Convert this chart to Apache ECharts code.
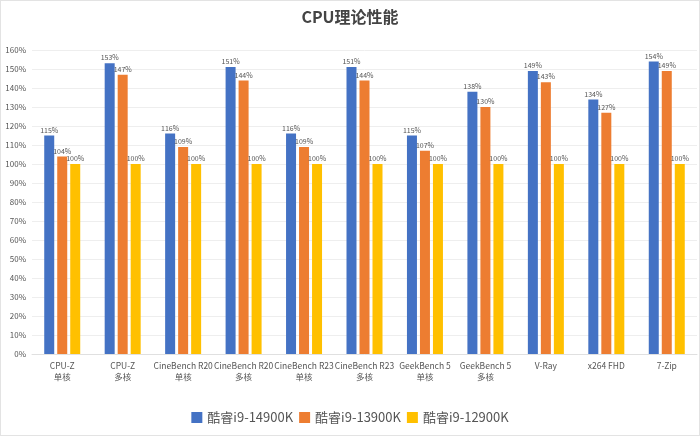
<!DOCTYPE html>
<html><head><meta charset="utf-8">
<script src="https://cdn.jsdelivr.net/npm/echarts@6/dist/echarts.min.js"></script>
<style>html,body{margin:0;padding:0;background:#fff}#c{width:698px;height:434px;border:1px solid #e3e3e3}</style>
</head><body><div id="c"></div>
<script>
const categories = ["CPU-Z\n单核","CPU-Z\n多核","CineBench R20\n单核","CineBench R20\n多核","CineBench R23\n单核","CineBench R23\n多核","GeekBench 5\n单核","GeekBench 5\n多核","V-Ray","x264 FHD","7-Zip"];
const seriesNames = ["酷睿i9-14900K","酷睿i9-13900K","酷睿i9-12900K"];
const s14900K = [115,153,116,151,116,151,115,138,149,134,154];
const s13900K = [104,147,109,144,109,144,107,130,143,127,149];
const s12900K = [100,100,100,100,100,100,100,100,100,100,100];
const colors = ["#4472C4","#ED7D31","#FFC000"];
const font = "'Noto Sans CJK SC', 'Noto Sans', sans-serif";
const chart = echarts.init(document.getElementById('c'));
function mk(name, data, i){
  return {name, type:'bar', data, barWidth:10, barGap:'30%',
    itemStyle:{color:colors[i]},
    label:{show:true, position:'top', distance:2, formatter:'{c}%', fontSize:7, color:'#555', fontFamily:font}};
}
chart.setOption({
  animation:false,
  textStyle:{fontFamily:font},
  title:{text:'CPU理论性能', left:'center', top:3, textStyle:{fontSize:16, fontWeight:'bold', color:'#444', fontFamily:font}},
  legend:{bottom:6, itemWidth:11, itemHeight:11, itemGap:6, icon:'rect', textStyle:{fontSize:13, color:'#555'}},
  grid:{left:31, right:2, top:49, bottom:81},
  xAxis:{type:'category', data:categories, axisTick:{show:false},
    axisLine:{lineStyle:{color:'#e0e0e0'}},
    axisLabel:{fontSize:8.5, color:'#555', interval:0, lineHeight:11, margin:6}},
  yAxis:{type:'value', min:0, max:160, interval:10,
    axisLabel:{formatter:'{value}%', fontSize:8, color:'#555', margin:6},
    splitLine:{lineStyle:{color:'#eeeeee'}}},
  series:[mk(seriesNames[0], s14900K, 0), mk(seriesNames[1], s13900K, 1), mk(seriesNames[2], s12900K, 2)]
});
</script></body></html>
